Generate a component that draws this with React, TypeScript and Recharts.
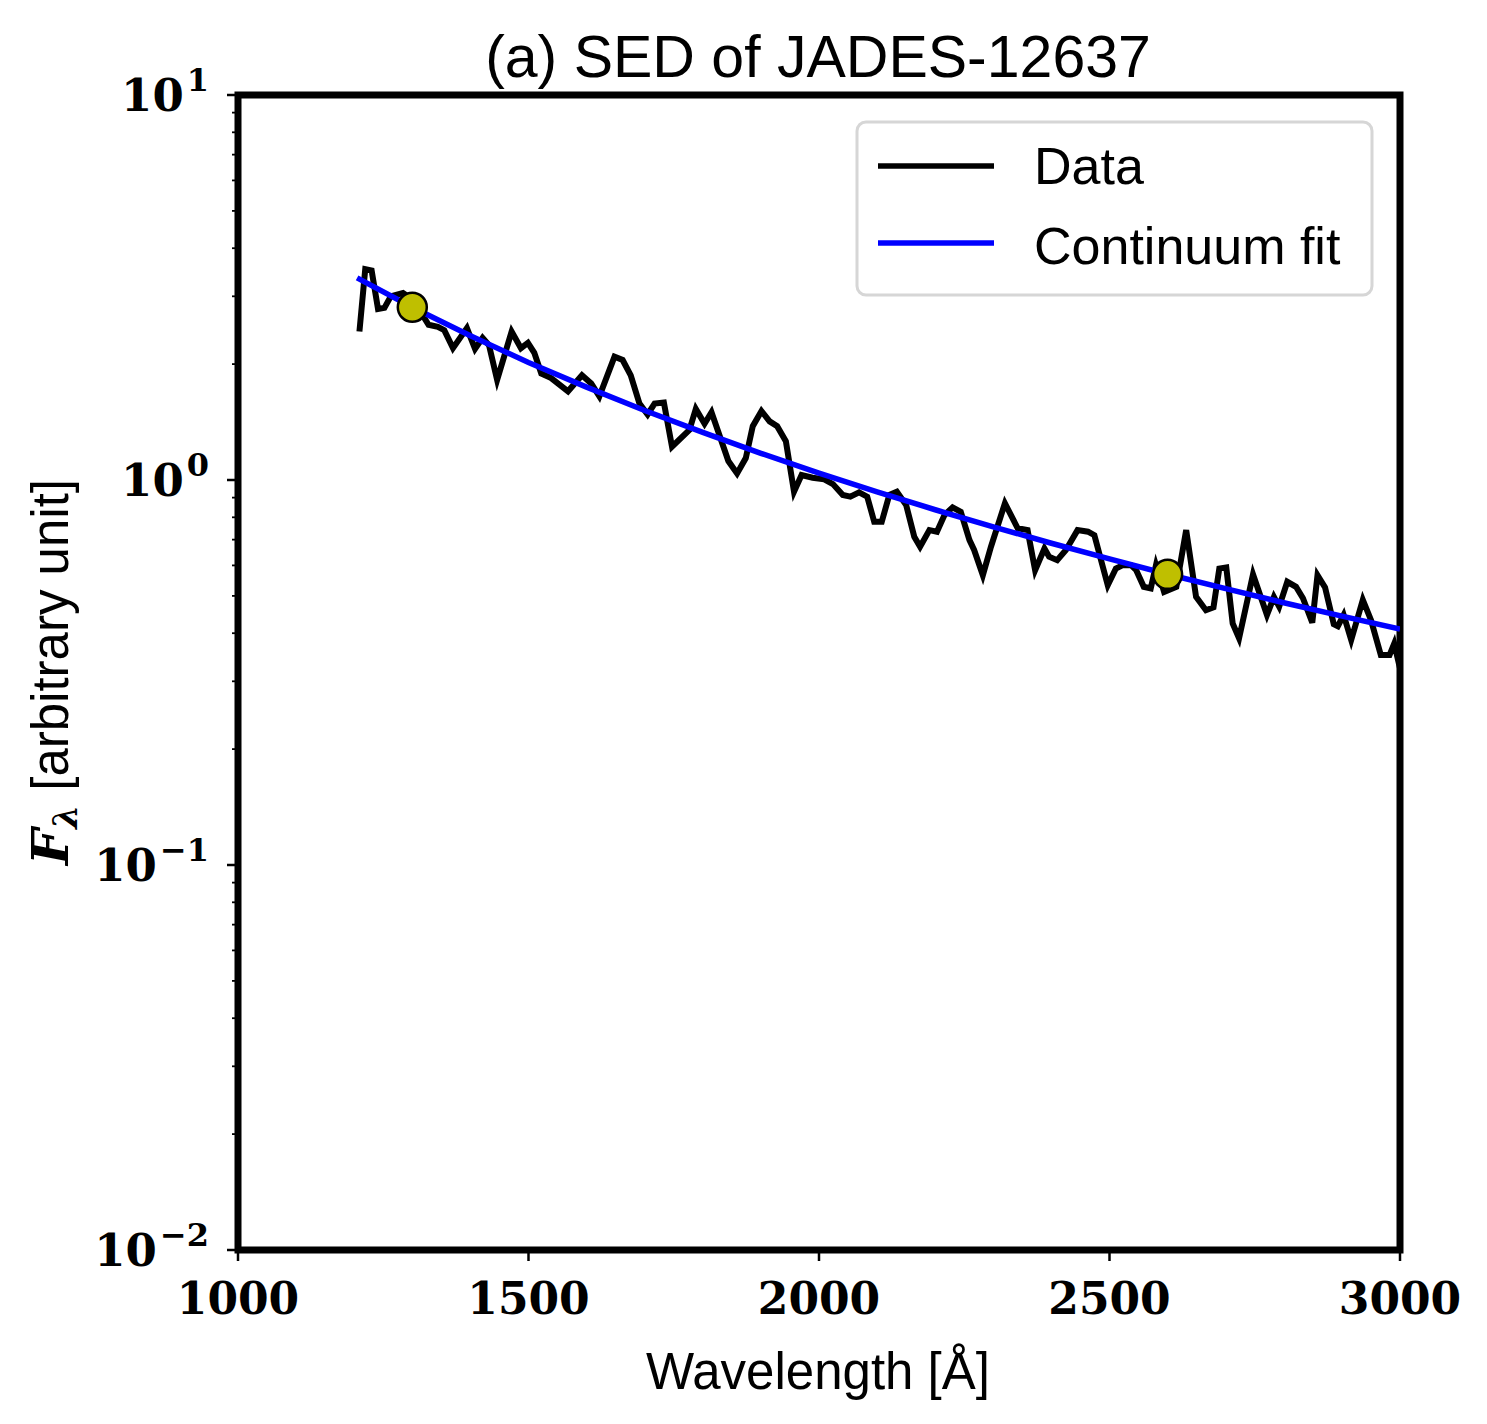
import React from "react";
import { ComposedChart, Line, Scatter, XAxis, YAxis, Legend, ReferenceArea } from "recharts";

// Observed spectrum (wavelength in Å, flux in arbitrary units)
const dataWavelength = [
  1209, 1219, 1230, 1241, 1252, 1263, 1284, 1301, 1328, 1344,
  1355, 1370, 1394, 1408, 1421, 1432, 1446, 1471, 1487, 1499,
  1510, 1522, 1539, 1568, 1592, 1608, 1622, 1648, 1662, 1676,
  1691, 1705, 1717, 1733, 1747, 1777, 1788, 1803, 1815, 1844,
  1859, 1874, 1886, 1901, 1915, 1928, 1943, 1957, 1970, 1989,
  2009, 2024, 2041, 2054, 2069, 2083, 2095, 2108, 2121, 2134,
  2150, 2164, 2174, 2190, 2203, 2216, 2230, 2244, 2259, 2267,
  2282, 2296, 2320, 2342, 2359, 2372, 2388, 2396, 2410, 2425,
  2445, 2463, 2474, 2497, 2511, 2523, 2537, 2546, 2559, 2571,
  2580, 2594, 2615, 2632, 2649, 2666, 2679, 2689, 2701, 2712,
  2723, 2747, 2771, 2783, 2792, 2806, 2821, 2833, 2849, 2858,
  2871, 2886, 2893, 2903, 2916, 2936, 2950, 2967, 2982, 2990,
  3000,
];
const dataFlux = [
  2.43, 3.53, 3.5, 2.78, 2.8, 3.0, 3.06, 2.94, 2.53, 2.5,
  2.45, 2.2, 2.48, 2.19, 2.34, 2.24, 1.82, 2.43, 2.2, 2.27,
  2.14, 1.89, 1.84, 1.7, 1.87, 1.78, 1.65, 2.09, 2.05, 1.87,
  1.58, 1.48, 1.58, 1.59, 1.22, 1.35, 1.53, 1.4, 1.5, 1.12,
  1.04, 1.14, 1.38, 1.51, 1.42, 1.38, 1.26, 0.932, 1.03, 1.014,
  1.004, 0.976, 0.914, 0.905, 0.929, 0.905, 0.779, 0.779, 0.914, 0.932,
  0.861, 0.712, 0.671, 0.741, 0.734, 0.811, 0.849, 0.827, 0.698, 0.658,
  0.566, 0.671, 0.87, 0.749, 0.741, 0.583, 0.664, 0.632, 0.619, 0.658,
  0.741, 0.734, 0.719, 0.533, 0.589, 0.601, 0.601, 0.583, 0.528, 0.523,
  0.601, 0.512, 0.528, 0.741, 0.497, 0.459, 0.467, 0.589, 0.593, 0.424,
  0.388, 0.569, 0.446, 0.497, 0.469, 0.544, 0.528, 0.493, 0.426, 0.566,
  0.526, 0.422, 0.417, 0.446, 0.384, 0.488, 0.433, 0.351, 0.351, 0.376,
  0.324,
];

// Continuum fit
const fitWavelength = [1205, 1300, 1400, 1500, 1600, 1700, 1800, 1900, 2000, 2100, 2200, 2300, 2400, 2500, 2600, 2700, 2800, 2900, 3000];
const fitFlux = [3.35, 2.81, 2.37, 2.02, 1.743, 1.516, 1.329, 1.173, 1.042, 0.932, 0.837, 0.756, 0.685, 0.624, 0.569, 0.522, 0.48, 0.443, 0.41];

// Anchor points of the fit
const anchorWavelength = [1300, 2600];
const anchorFlux = [2.81, 0.569];

const xTicks = [1000, 1500, 2000, 2500, 3000];
const yMajorTicks = [0.01, 0.1, 1, 10];
const yMinorTicks = [
  0.02, 0.03, 0.04, 0.05, 0.06, 0.07, 0.08, 0.09,
  0.2, 0.3, 0.4, 0.5, 0.6, 0.7, 0.8, 0.9,
  2, 3, 4, 5, 6, 7, 8, 9,
];
const yAllTicks = [...yMajorTicks, ...yMinorTicks].sort((a, b) => a - b);

const seriesData = dataWavelength.map((w, i) => ({ w, f: dataFlux[i] }));
const fitData = fitWavelength.map((w, i) => ({ w, f: fitFlux[i] }));
const anchorData = anchorWavelength.map((w, i) => ({ w, f: anchorFlux[i] }));

const SERIF = "'DejaVu Serif', serif";
const SANS = "'Liberation Sans', Arial, sans-serif";
const TICK_SIZE = 11;
const TICK_MARGIN = 2;

const XTick = (props: any) => {
  const { x, y, payload } = props;
  const y0 = y - TICK_SIZE - TICK_MARGIN;
  return (
    <g>
      <line x1={x} x2={x} y1={y0} y2={y0 + TICK_SIZE} stroke="#000" strokeWidth={2.5} />
      <text x={x} y={y + 51} textAnchor="middle" fontFamily={SERIF} fontWeight="bold" fontSize={44} fill="#000">
        {payload.value}
      </text>
    </g>
  );
};

const YTick = (props: any) => {
  const { x, y, payload } = props;
  const v = payload.value;
  const isMajor = yMajorTicks.includes(v);
  const x0 = x + TICK_SIZE + TICK_MARGIN;
  if (!isMajor) {
    return <line x1={x0 - 6} x2={x0} y1={y} y2={y} stroke="#000" strokeWidth={1.8} />;
  }
  const exp = Math.round(Math.log10(v));
  const label = exp < 0 ? "\u2212" + Math.abs(exp) : String(exp);
  return (
    <g>
      <line x1={x0 - TICK_SIZE} x2={x0} y1={y} y2={y} stroke="#000" strokeWidth={2.5} />
      <text x={x - 16} y={y + 16} textAnchor="end" fontFamily={SERIF} fontWeight="bold" fontSize={45} fill="#000">
        <tspan>10</tspan>
        <tspan dy={-20} dx={3} fontSize={32}>{label}</tspan>
      </text>
    </g>
  );
};

const renderLegend = () => (
  <svg width={521} height={179} style={{ display: "block" }}>
    <rect x={3} y={3} width={515} height={173} rx={9} ry={9} fill="#fff" fillOpacity={0.8} stroke="#d6d6d6" strokeWidth={3} />
    <line x1={24} x2={140} y1={47} y2={47} stroke="#000" strokeWidth={5.5} />
    <text x={180} y={65} fontFamily={SANS} fontSize={52} fill="#000">Data</text>
    <line x1={24} x2={140} y1={124} y2={124} stroke="#0000ff" strokeWidth={5.5} />
    <text x={180} y={145} fontFamily={SANS} fontSize={52} fill="#000">Continuum fit</text>
  </svg>
);

const anchorShape = (p: any) => (
  <circle cx={p.cx} cy={p.cy} r={14.5} fill="#bfbf00" stroke="#000" strokeWidth={2.5} />
);

export default function App() {
  return (
    <div style={{ position: "relative", width: 1479, height: 1408 }}>
      <ComposedChart
        width={1479}
        height={1408}
        margin={{ top: 87, right: 87, bottom: 106, left: 80 }}
      >
        <XAxis
          type="number"
          dataKey="w"
          domain={[1000, 3000]}
          ticks={xTicks}
          interval={0}
          allowDataOverflow
          height={60}
          tickSize={TICK_SIZE}
          tickMargin={TICK_MARGIN}
          tickLine={false}
          axisLine={false}
          tick={<XTick />}
        />
        <YAxis
          yAxisId="y"
          type="number"
          scale="log"
          domain={[0.01, 10]}
          ticks={yAllTicks}
          interval={0}
          allowDataOverflow
          width={150}
          tickSize={TICK_SIZE}
          tickMargin={TICK_MARGIN}
          tickLine={false}
          axisLine={false}
          tick={<YTick />}
        />
        <Legend
          layout="vertical"
          align="center"
          verticalAlign="middle"
          content={renderLegend}
          wrapperStyle={{ position: "absolute", left: 846, top: 111, width: 521, height: 179 }}
        />
        <Line
          yAxisId="y"
          data={seriesData}
          dataKey="f"
          name="Data"
          type="linear"
          stroke="#000"
          strokeWidth={6}
          dot={false}
          isAnimationActive={false}
        />
        <Line
          yAxisId="y"
          data={fitData}
          dataKey="f"
          name="Continuum fit"
          type="linear"
          stroke="#0000ff"
          strokeWidth={5.5}
          dot={false}
          isAnimationActive={false}
        />
        <Scatter
          yAxisId="y"
          data={anchorData}
          dataKey="f"
          shape={anchorShape}
          isAnimationActive={false}
          legendType="none"
        />
        <ReferenceArea
          yAxisId="y"
          x1={1000}
          x2={3000}
          y1={0.01}
          y2={10}
          fill="none"
          stroke="#000"
          strokeWidth={7}
          ifOverflow="visible"
        />
      </ComposedChart>
      <svg
        width={1479}
        height={1408}
        style={{ position: "absolute", left: 0, top: 0, pointerEvents: "none" }}
      >
        <text x={810} y={69} textAnchor="middle" fontFamily={SANS} fontSize={59} fill="#000">
          (a) SED of JADES-12637
        </text>
        <text x={810} y={1381} textAnchor="middle" fontFamily={SANS} fontSize={51} fill="#000">
          Wavelength [Å]
        </text>
        <text
          x={60}
          y={664}
          textAnchor="middle"
          transform="rotate(-90 60 664)"
          fontFamily={SANS}
          fontSize={51}
          fill="#000"
        >
          <tspan fontFamily={SERIF} fontStyle="italic" fontWeight="bold">F</tspan>
          <tspan fontFamily={SERIF} fontStyle="italic" fontWeight="bold" fontSize={34} dy={9}>λ</tspan>
          <tspan dy={-9}> [arbitrary unit]</tspan>
        </text>
      </svg>
    </div>
  );
}
